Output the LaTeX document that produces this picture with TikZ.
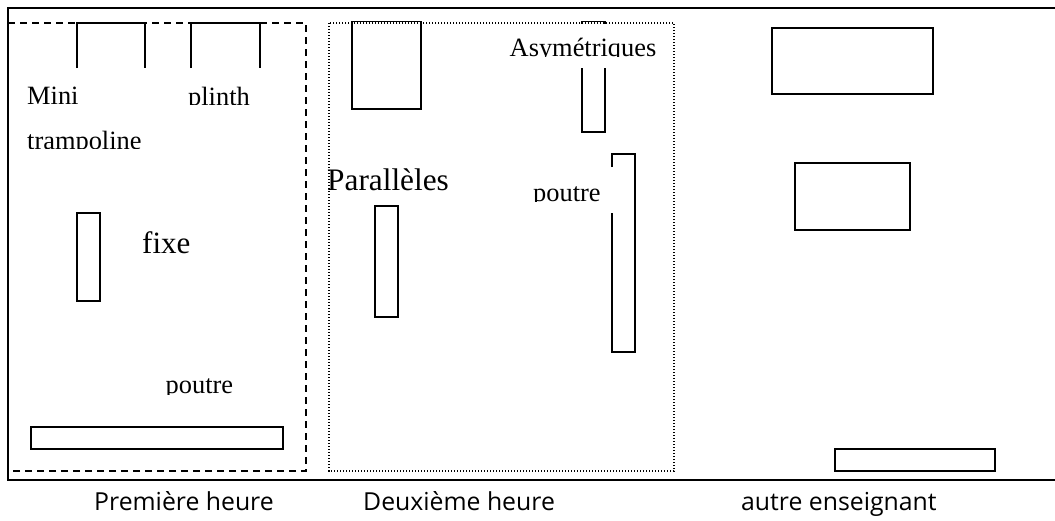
\documentclass[tikz,border=0pt]{standalone}
\usepackage{fontspec}
\setmainfont{Liberation Serif}
\newfontfamily\capfont{Open Sans}
\tikzset{
  box/.style={draw=black,line width=1.6pt},
  frame/.style={draw=black,line width=2pt},
  dashbox/.style={draw=black,line width=1.6pt,dash pattern=on 7pt off 5pt},
  dotbox/.style={draw=black,line width=1.2pt,dash pattern=on 1.4pt off 1.6pt},
  mask/.style={fill=white,draw=none},
  lab/.style={anchor=base west,inner sep=0pt,font=\fontsize{26.4}{28}\selectfont},
  biglab/.style={anchor=base west,inner sep=0pt,font=\fontsize{31.3}{33}\selectfont},
  fixlab/.style={anchor=base west,inner sep=0pt,font=\fontsize{31}{33}\selectfont},
  caplab/.style={anchor=base west,inner sep=0pt,font=\capfont\fontsize{24.8}{26}\selectfont},
}
\begin{document}
\begin{tikzpicture}[x=1pt,y=-1pt]
\useasboundingbox (0,0) rectangle (1055,520);
\fill[white] (0,0) rectangle (1055,520);
% outer frame
\draw[frame] (1055,8) -- (7.5,8) -- (7.5,480) -- (1055,480);
% group frames
\draw[dashbox] (8,23) -- (306,23) -- (306,471) -- (8,471);
\draw[dotbox] (329,23) rectangle (674,471);
% first hour apparatus
\draw[box] (77,68) -- (77,23) -- (145,23) -- (145,68);
\draw[box] (191,68) -- (191,23) -- (260,23) -- (260,68);
\draw[box] (77,213) rectangle (100,301);
\draw[box] (31,427) rectangle (283,449);
% second hour apparatus
\draw[box] (352,21.5) rectangle (421,109);
\draw[box] (582,21.5) rectangle (605,132);
\draw[box] (612,167) -- (612,154) -- (635,154) -- (635,352) -- (612,352) -- (612,213);
\draw[box] (375,206) rectangle (398,317);
% other teacher
\draw[box] (772,28) rectangle (933,94);
\draw[box] (795,163) rectangle (910,230);
\draw[box] (835,449) rectangle (995,471);
% labels, cut at the bottom by their white boxes
\fill[mask] (509,24) rectangle (658,68);
\node[lab] (mini) at (27,104) {Mini};
\node[lab] (plinth) at (188,105) {plinth};
\node[lab] (tramp) at (27,149.5) {trampoline};
\node[lab] (asym) at (509.5,56.5) {Asymétriques};
\node[lab] (poutreb) at (533,201.5) {poutre};
\node[lab] (poutrea) at (165.5,393.5) {poutre};
\node[biglab] (par) at (327,190.7) {Parallèles};
\node[fixlab] (fixe) at (142,253) {fixe};
\fill[mask] (27,148.5) rectangle (145,156);
\fill[mask] (186,105) rectangle (252,113);
\fill[mask] (509,57) rectangle (658,68);
\fill[mask] (531,202) rectangle (602,210);
\fill[mask] (163,395) rectangle (235,403);
% captions
\node[caplab] (c1) at (94,510.5) {Première heure};
\node[caplab] (c2) at (363,510.5) {Deuxième heure};
\node[caplab] (c3) at (741,510.5) {autre enseignant};
\end{tikzpicture}
\end{document}
